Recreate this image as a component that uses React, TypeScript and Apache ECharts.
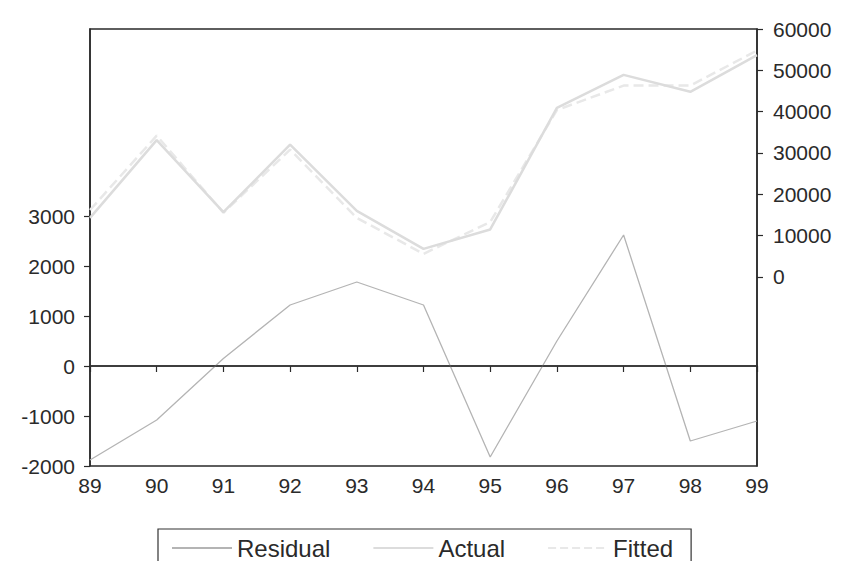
import React, { useEffect, useRef } from "react";
import * as echarts from "echarts";

const years = ["89", "90", "91", "92", "93", "94", "95", "96", "97", "98", "99"];
const residual = [-1880, -1080, 150, 1220, 1680, 1220, -1820, 500, 2620, -1500, -1100];
const actual = [14300, 33100, 15700, 32000, 16000, 6800, 11500, 40900, 48900, 44800, 53700];
const fitted = [16200, 34200, 15550, 30800, 14300, 5600, 13300, 40400, 46300, 46300, 54800];
const leftTicks = [-2000, -1000, 0, 1000, 2000, 3000];
const rightTicks = [0, 10000, 20000, 30000, 40000, 50000, 60000];

const FONT = "Liberation Sans, Arial, sans-serif";
const TXT = "#2a2a2a";
const AX = "#2a2a2a";

export default function App() {
  const ref = useRef<HTMLDivElement>(null);
  useEffect(() => {
    if (!ref.current) return;
    const chart = echarts.init(ref.current, undefined, { renderer: "svg" });
    const axisLine = { show: true, lineStyle: { color: AX, width: 1.5 } };
    const plain = (v: number) => String(Math.round(v));
    chart.setOption({
      animation: false,
      backgroundColor: "#ffffff",
      textStyle: { fontFamily: FONT },
      grid: {
        left: 90,
        right: 86,
        top: 29,
        bottom: 95,
        show: true,
        borderColor: AX,
        borderWidth: 1.5,
        backgroundColor: "transparent",
      },
      legend: {
        left: 158,
        top: 529,
        orient: "horizontal",
        padding: [7, 18, 12, 13],
        itemWidth: 60,
        itemHeight: 14,
        itemGap: 42,
        borderColor: "#333",
        borderWidth: 1.2,
        itemStyle: { opacity: 0 },
        textStyle: { fontSize: 24, color: TXT, fontFamily: FONT },
        data: ["Residual", "Actual", "Fitted"],
      },
      xAxis: {
        type: "category",
        data: years,
        boundaryGap: false,
        axisLine,
        axisTick: { show: true, inside: false, length: 6, lineStyle: { color: AX, width: 1.2 } },
        axisLabel: { fontSize: 21, color: TXT, margin: 9, fontFamily: FONT },
        splitLine: { show: false },
      },
      yAxis: [
        {
          type: "value",
          position: "left",
          min: -2000,
          max: 6740,
          interval: 1000,
          axisLine,
          axisTick: {
            show: true,
            length: 6,
            customValues: leftTicks,
            lineStyle: { color: AX, width: 1.2 },
          },
          axisLabel: {
            fontSize: 21,
            color: TXT,
            margin: 15,
            customValues: leftTicks,
            formatter: plain,
            fontFamily: FONT,
          },
          splitLine: { show: false },
        },
        {
          type: "value",
          position: "right",
          min: -45730,
          max: 60000,
          axisLine,
          axisTick: {
            show: true,
            length: 6,
            customValues: rightTicks,
            lineStyle: { color: AX, width: 1.2 },
          },
          axisLabel: {
            fontSize: 21,
            color: TXT,
            margin: 16,
            customValues: rightTicks,
            formatter: plain,
            fontFamily: FONT,
          },
          splitLine: { show: false },
        },
      ],
      series: [
        {
          name: "Residual",
          type: "line",
          yAxisIndex: 0,
          data: residual,
          symbol: "none",
          lineStyle: { color: "#b4b4b4", width: 1.3 },
          itemStyle: { color: "#b4b4b4" },
          markLine: {
            silent: true,
            symbol: ["none", "none"],
            label: { show: false },
            lineStyle: { color: "#333", width: 1.5, type: "solid" },
            data: [{ yAxis: 0 }],
          },
          z: 3,
        },
        {
          name: "Actual",
          type: "line",
          yAxisIndex: 1,
          data: actual,
          symbol: "none",
          lineStyle: { color: "#dcdcdc", width: 2.5 },
          itemStyle: { color: "#dcdcdc" },
          z: 2,
        },
        {
          name: "Fitted",
          type: "line",
          yAxisIndex: 1,
          data: fitted,
          symbol: "none",
          lineStyle: { color: "#e8e8e8", width: 2.5, type: "dashed" },
          itemStyle: { color: "#e8e8e8" },
          z: 1,
        },
      ],
    });
    return () => chart.dispose();
  }, []);
  return (
    <div
      ref={ref}
      style={{ position: "fixed", left: 0, top: 0, width: 843, height: 561, background: "#fff" }}
    />
  );
}
